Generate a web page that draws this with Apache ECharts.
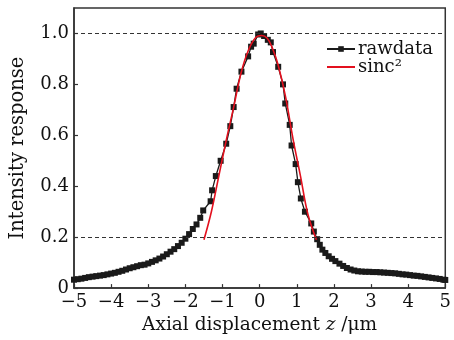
<!DOCTYPE html>
<html>
<head>
<meta charset="utf-8">
<script src="https://cdn.jsdelivr.net/npm/echarts@6/dist/echarts.min.js"></script>
<style>
html,body{margin:0;padding:0;background:#fff;}
#chart{width:454px;height:340px;}
</style>
</head>
<body>
<div id="chart"></div>
<script>
var rawZ = [-5.0,-4.9,-4.8,-4.7,-4.6,-4.5,-4.4,-4.3,-4.2,-4.1,-4.0,-3.9,-3.8,-3.7,-3.6,-3.5,-3.4,-3.3,-3.2,-3.1,-3.0,-2.9,-2.8,-2.7,-2.6,-2.5,-2.4,-2.3,-2.2,-2.1,-2.0,-1.9,-1.8,-1.7,-1.6,
  -1.52,-1.32,-1.28,-1.18,-1.05,-0.90,-0.79,-0.70,-0.62,-0.49,-0.31,-0.23,-0.16,-0.04,
  0.03,0.12,0.22,0.30,0.36,0.50,0.63,0.69,0.81,0.86,0.97,1.03,1.11,1.22,1.39,1.46,1.55,1.62,1.69,1.77,1.86,1.95,
  2.04,2.15,2.25,2.35,2.45,2.55,2.65,2.75,2.85,2.95,3.05,3.15,3.25,3.35,3.45,3.55,3.65,3.75,3.85,3.95,4.05,4.15,4.25,4.35,4.45,4.55,4.65,4.75,4.85,4.95,5.0];
var rawI = [0.033,0.035,0.037,0.040,0.043,0.045,0.047,0.049,0.051,0.054,0.057,0.060,0.064,0.068,0.073,0.078,0.082,0.086,0.090,0.092,0.097,0.103,0.109,0.116,0.124,0.133,0.143,0.153,0.165,0.178,0.194,0.212,0.232,0.250,0.276,
  0.305,0.341,0.384,0.440,0.500,0.567,0.636,0.711,0.783,0.850,0.910,0.948,0.960,0.996,
  1.000,0.990,0.975,0.965,0.927,0.869,0.800,0.725,0.641,0.560,0.487,0.416,0.352,0.300,0.254,0.222,0.192,0.170,0.151,0.138,0.125,0.115,
  0.106,0.096,0.087,0.079,0.073,0.069,0.066,0.065,0.064,0.064,0.063,0.063,0.062,0.061,0.060,0.059,0.058,0.056,0.054,0.053,0.051,0.049,0.048,0.046,0.044,0.042,0.040,0.038,0.036,0.033,0.032];
var fitZ = [-1.50,-1.30,-1.10,-0.90,-0.70,-0.50,-0.30,-0.10,0.05,0.20,0.35,0.50,0.70,0.90,1.10,1.30,1.53];
var fitI = [0.19,0.30,0.44,0.58,0.71,0.845,0.935,0.985,0.992,0.982,0.94,0.875,0.75,0.585,0.44,0.29,0.19];
var refLines = [1.0, 0.2];
var xTicks = [-5,-4,-3,-2,-1,0,1,2,3,4,5];
var yTicks = [0,0.2,0.4,0.6,0.8,1.0];

function zip(a,b){var o=[];for(var i=0;i<Math.min(a.length,b.length);i++)o.push([a[i],b[i]]);return o;}

var FONT = 'DejaVu Serif';
var chart = echarts.init(document.getElementById('chart'), null, {renderer:'canvas'});
chart.setOption({
  animation:false,
  backgroundColor:'#fff',
  textStyle:{fontFamily:FONT,color:'#111'},
  grid:{left:67,right:5,top:8,bottom:50,show:true,borderColor:'#333',borderWidth:1.5,backgroundColor:'transparent'},
  legend:{
    orient:'vertical',left:321,top:35,itemWidth:28,itemHeight:7,itemGap:0,
    textStyle:{fontFamily:FONT,fontSize:18,color:'#111',padding:[0,0,0,-2]},
    data:[{name:'rawdata'},{name:'sinc²',itemStyle:{opacity:0}}]
  },
  xAxis:{
    type:'value',min:-5,max:5,interval:1,
    name:'{a|Axial displacement }{i|z}{a| /μm}',nameLocation:'middle',nameGap:27,
    nameTextStyle:{rich:{a:{fontFamily:FONT,fontSize:18.5,color:'#111'},i:{fontFamily:FONT,fontSize:18.5,fontStyle:'italic',color:'#111'}}},
    axisLine:{onZero:false,lineStyle:{color:'#333',width:1.5}},
    axisTick:{inside:true,length:4,lineStyle:{color:'#333',width:1.2}},
    axisLabel:{fontFamily:FONT,fontSize:18,color:'#111',margin:5,
      formatter:function(v){return (v<0?'\u2212':'')+Math.abs(v);}},
    splitLine:{show:false}
  },
  yAxis:{
    type:'value',min:0,max:1.1,interval:0.2,
    name:'Intensity response',nameLocation:'middle',nameGap:46,
    nameTextStyle:{fontFamily:FONT,fontSize:19.5,color:'#111'},
    axisLine:{onZero:false,lineStyle:{color:'#333',width:1.5}},
    axisTick:{inside:true,length:4,lineStyle:{color:'#333',width:1.2}},
    axisLabel:{fontFamily:FONT,fontSize:18,color:'#111',margin:5,showMaxLabel:false,
      formatter:function(v){
        for(var k=0;k<yTicks.length;k++){ if(Math.abs(v-yTicks[k])<1e-6) return v===0?'0':v.toFixed(1); }
        return '';
      }},
    splitLine:{show:false}
  },
  series:[
    {
      name:'rawdata',type:'line',data:zip(rawZ,rawI),
      symbol:'rect',symbolSize:6,showAllSymbol:true,
      itemStyle:{color:'#1a1a1a'},
      lineStyle:{color:'#1a1a1a',width:1.3},
      markLine:{
        silent:true,symbol:['none','none'],label:{show:false},
        lineStyle:{type:[4,3],color:'#333',width:1},
        data:refLines.map(function(v){return {yAxis:v};})
      },
      z:2
    },
    {
      name:'sinc²',type:'line',data:zip(fitZ,fitI),
      symbol:'none',smooth:0.4,
      itemStyle:{color:'#e3101e'},
      lineStyle:{color:'#e3101e',width:1.6},
      z:3
    }
  ]
});
</script>
</body>
</html>
